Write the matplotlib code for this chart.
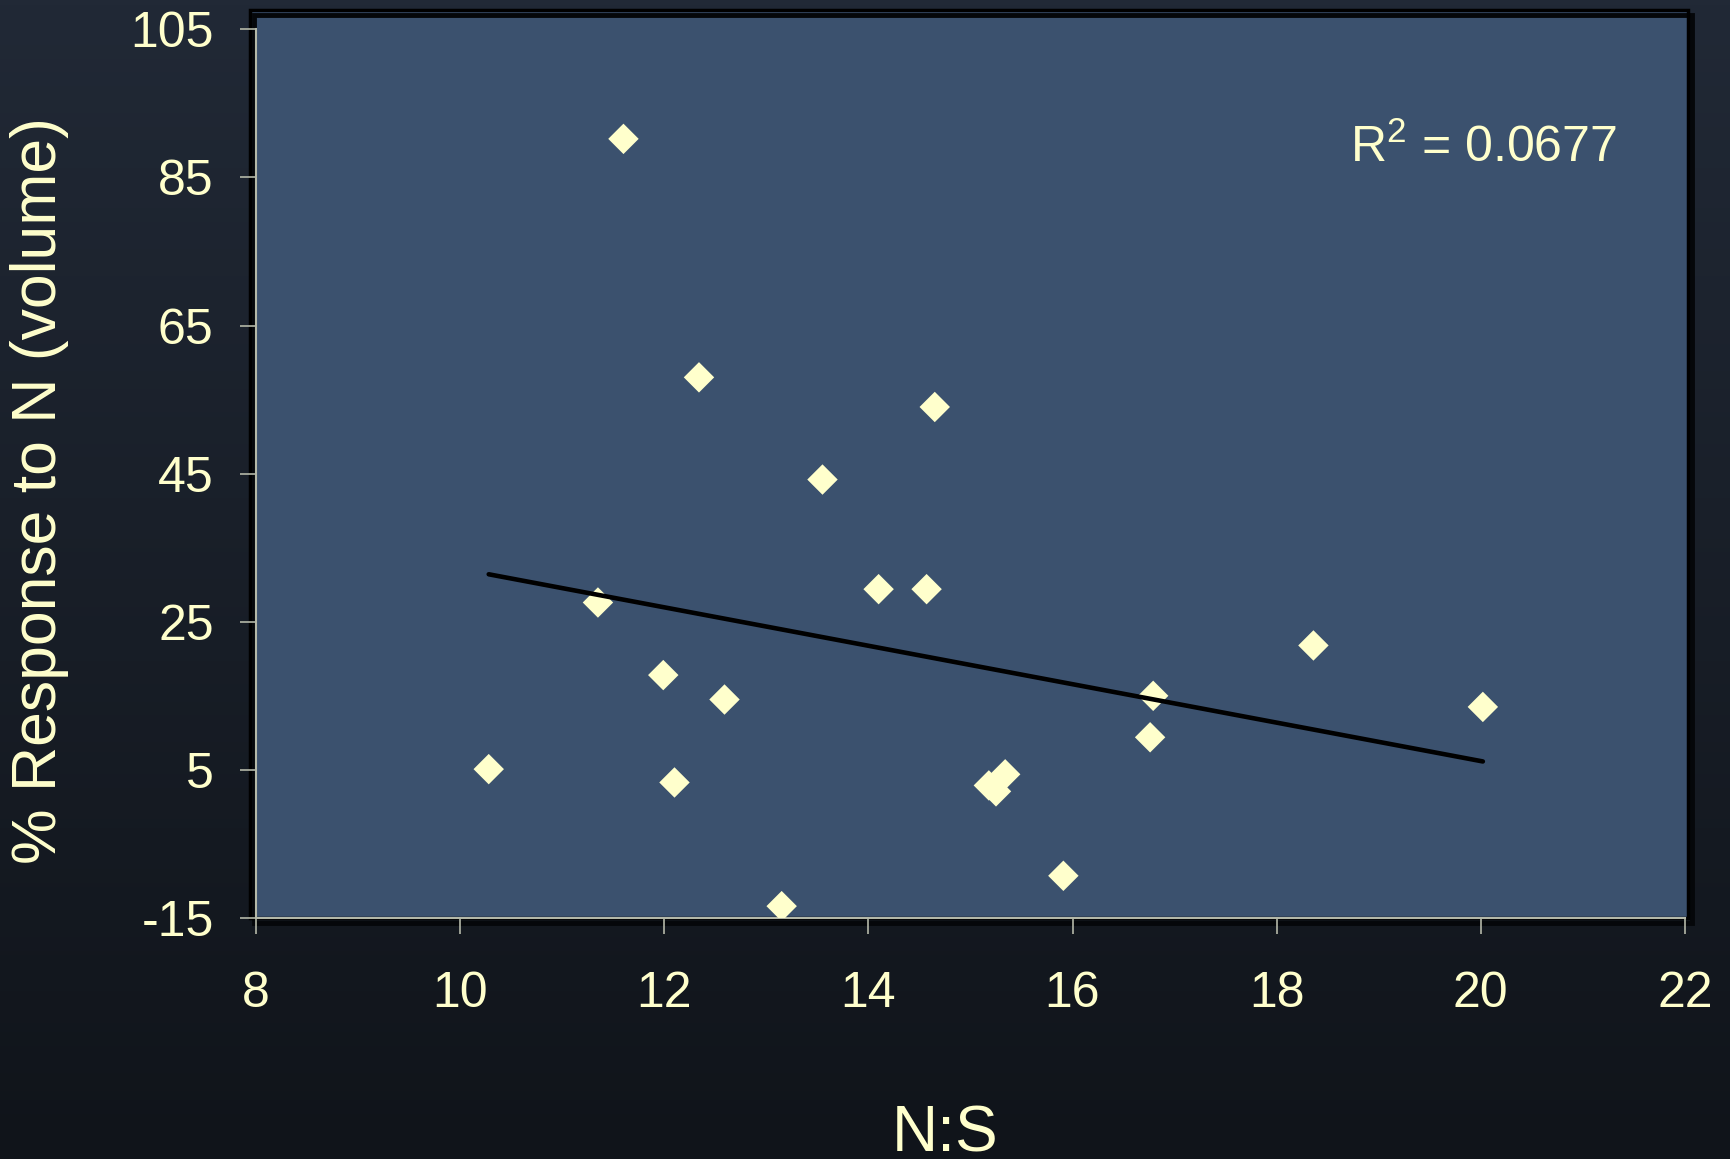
import numpy as np
import matplotlib
matplotlib.use('Agg')
import matplotlib.pyplot as plt
from matplotlib.patches import Rectangle

plt.rcParams['font.family'] = ['Liberation Sans', 'DejaVu Sans']
plt.rcParams['mathtext.fontset'] = 'custom'
plt.rcParams['mathtext.rm'] = 'Liberation Sans'
plt.rcParams['mathtext.it'] = 'Liberation Sans'
plt.rcParams['axes.unicode_minus'] = False

# N:S ratio vs. percent volume response to N
ns_ratio = [10.28, 11.35, 11.60, 11.99, 12.10, 12.34, 12.59, 13.15, 13.55, 14.10,
            14.57, 14.65, 15.18, 15.25, 15.34, 15.91, 16.76, 16.79, 18.36, 20.02]
response = [5.1, 27.6, 90.2, 17.8, 3.3, 58.0, 14.5, -13.4, 44.2, 29.4,
            29.4, 54.0, 2.9, 2.1, 4.4, -9.3, 9.4, 15.0, 21.8, 13.5]
r_squared = 0.0677

x_ticks = [8, 10, 12, 14, 16, 18, 20, 22]
y_ticks = [-15, 5, 25, 45, 65, 85, 105]

text_col = '#ffffcc'
axis_col = '#b4b8a8'
plot_bg = '#3b516e'

fig = plt.figure(figsize=(17.3, 11.59), dpi=100)

# dark vertical gradient behind everything
bg = fig.add_axes([0, 0, 1, 1], zorder=-10)
grad = np.linspace(0, 1, 256).reshape(-1, 1)
top = np.array([0x21, 0x29, 0x36]) / 255
bot = np.array([0x10, 0x14, 0x1a]) / 255
img = top + (bot - top) * grad[..., None]
bg.imshow(img, aspect='auto', extent=[0, 1, 0, 1])
bg.axis('off')

ax = fig.add_axes([250 / 1730, 1 - 918 / 1159, 1438 / 1730, 908 / 1159])
ax.set_facecolor(plot_bg)
ax.set_xlim(7.941, 22.03)
ax.set_ylim(-15, 107.6)

# black border with a small drop shadow
ax.add_patch(Rectangle((0, 0), 1, 1, transform=ax.transAxes, fill=False,
                       edgecolor='black', linewidth=2.5, clip_on=False, zorder=0.5))
ax.add_patch(Rectangle((0.003, -0.005), 1, 1, transform=ax.transAxes, fill=False,
                       edgecolor='#05070a', linewidth=3.5, clip_on=False, zorder=0.4))

for side in ['top', 'right']:
    ax.spines[side].set_visible(False)
ax.spines['left'].set_position(('data', 8))
ax.spines['left'].set_bounds(-15, 105)
ax.spines['bottom'].set_bounds(8, 22)
for side in ['left', 'bottom']:
    ax.spines[side].set_color(axis_col)
    ax.spines[side].set_linewidth(1.5)
    ax.spines[side].set_zorder(3)

ax.set_xticks(x_ticks)
ax.set_yticks(y_ticks)
ax.tick_params(axis='both', colors=axis_col, labelcolor=text_col, labelsize=36,
               length=11.5, width=1.2)
ax.tick_params(axis='x', pad=27)
ax.tick_params(axis='y', pad=19)

ax.scatter(ns_ratio, response, marker='D', s=15.5 ** 2, color=text_col,
           edgecolors='none', zorder=4)

# linear trendline fitted to the points
slope, intercept = np.polyfit(ns_ratio, response, 1)
xs = np.array([min(ns_ratio), max(ns_ratio)])
ax.plot(xs, slope * xs + intercept, color='black', linewidth=3.3,
        solid_capstyle='round', zorder=5)

fig.text(1350 / 1730, 1 - 162 / 1159, r'R$^{2}$ = %.4f' % r_squared,
         color=text_col, fontsize=36, ha='left', va='baseline')

fig.text(40 / 1730, 1 - 491 / 1159, '% Response to N (volume)', color=text_col,
         fontsize=45, rotation=90, ha='center', va='center')
fig.text(945 / 1730, 1 - 1151 / 1159, 'N:S', color=text_col, fontsize=46,
         ha='center', va='baseline')

fig.savefig('out.png', dpi=100)
